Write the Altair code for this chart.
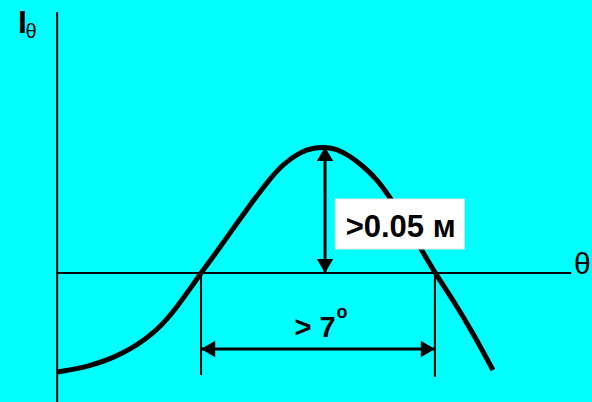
import altair as alt
import pandas as pd

# Directional diagram I(theta): main lobe with its height and angular width
theta = [0.0, 1.05, 2.21, 3.34, 4.02, 4.70, 4.91, 5.39, 5.97, 6.58, 6.92, 7.26,
         7.71, 8.29, 8.72, 9.14, 9.55, 9.99, 10.43, 10.91, 11.43, 12.38, 12.89,
         13.51, 14.19, 14.87]
intensity = [-0.0495, -0.047, -0.041, -0.030, -0.0185, -0.0045, 0.0, 0.0095,
             0.0215, 0.034, 0.0405, 0.047, 0.0545, 0.0605, 0.0625, 0.063,
             0.062, 0.0585, 0.0535, 0.047, 0.0365, 0.013, 0.0, -0.0135,
             -0.030, -0.0485]

peak_theta, peak_value = 9.14, 0.063
zero_left, zero_right = 4.91, 12.89
width_level = -0.038
tick_bottom = -0.051

x_domain = [-1.95, 18.25]
y_domain = [-0.0645, 0.1365]
axis_end_x = 17.54
axis_top_y = 0.1305

FONT = "Liberation Sans"
W, H = 592, 402

xs = alt.Scale(domain=x_domain, nice=False, zero=False)
ys = alt.Scale(domain=y_domain, nice=False, zero=False)


def X(f="x"):
    return alt.X(f"{f}:Q", scale=xs, axis=None)


def Y(f="y"):
    return alt.Y(f"{f}:Q", scale=ys, axis=None)


curve_df = pd.DataFrame({"x": theta, "y": intensity})
curve = alt.Chart(curve_df).mark_line(
    color="black", strokeWidth=5, interpolate="basis", strokeCap="butt"
).encode(x=X(), y=Y())

# coordinate axes
axes_df = pd.DataFrame({
    "x": [0.0, 0.0], "x2": [0.0, axis_end_x],
    "y": [y_domain[0], 0.0], "y2": [axis_top_y, 0.0],
})
axes = alt.Chart(axes_df).mark_rule(color="black", strokeWidth=2).encode(
    x=X(), x2="x2:Q", y=Y(), y2="y2:Q"
)

# extension lines at the zero crossings
ext_df = pd.DataFrame({
    "x": [zero_left, zero_right], "x2": [zero_left, zero_right],
    "y": [0.0, 0.0], "y2": [tick_bottom, tick_bottom - 0.001],
})
ext = alt.Chart(ext_df).mark_rule(color="black", strokeWidth=2).encode(
    x=X(), x2="x2:Q", y=Y(), y2="y2:Q"
)

# arrow shafts
shaft_df = pd.DataFrame({
    "x": [peak_theta, zero_left], "x2": [peak_theta, zero_right],
    "y": [0.0, width_level], "y2": [peak_value, width_level],
})
shafts = alt.Chart(shaft_df).mark_rule(color="black", strokeWidth=3).encode(
    x=X(), x2="x2:Q", y=Y(), y2="y2:Q"
)


def head(x, y, shape, dx=0, dy=0):
    d = pd.DataFrame({"x": [x], "y": [y]})
    return alt.Chart(d).mark_point(
        shape=shape, filled=True, color="black", opacity=1, size=270,
        xOffset=dx, yOffset=dy, strokeWidth=0
    ).encode(x=X(), y=Y())


heads = [
    head(peak_theta, peak_value, "triangle-up", dy=7),
    head(peak_theta, 0.0, "triangle-down", dy=-7),
    head(zero_left, width_level, "triangle-left", dx=7),
    head(zero_right, width_level, "triangle-right", dx=-7),
]

# label box for the lobe height
box_df = pd.DataFrame({"x": [9.49], "x2": [13.89], "y": [0.012], "y2": [0.037]})
box = alt.Chart(box_df).mark_rect(fill="white", stroke="#e6e6e6", strokeWidth=1).encode(
    x=X(), x2="x2:Q", y=Y(), y2="y2:Q"
)


def label(x, y, text, size, weight="normal", align="left"):
    d = pd.DataFrame({"x": [x], "y": [y], "t": [text]})
    return alt.Chart(d).mark_text(
        font=FONT, fontSize=size, fontWeight=weight, color="black",
        align=align, baseline="alphabetic"
    ).encode(x=X(), y=Y(), text="t:N")


labels = [
    label(11.72, 0.018, ">0.05 м", 31, "bold", "center"),
    label(8.80, -0.032, "> 7", 29, "bold", "center"),
    label(9.72, -0.0225, "o", 18, "bold", "center"),
    label(-1.34, 0.12, "I", 32, "bold"),
    label(-1.08, 0.1175, "θ", 20),
    label(17.64, -0.0005, "θ", 30),
]

chart = alt.layer(
    axes, ext, curve, shafts, *heads, box, *labels
).properties(
    width=W, height=H, padding=0, background="#00FFFF",
    autosize=alt.AutoSizeParams(type="none")
).configure_view(stroke=None)

chart.save("out.html", embed_options={"renderer": "svg", "actions": False})
